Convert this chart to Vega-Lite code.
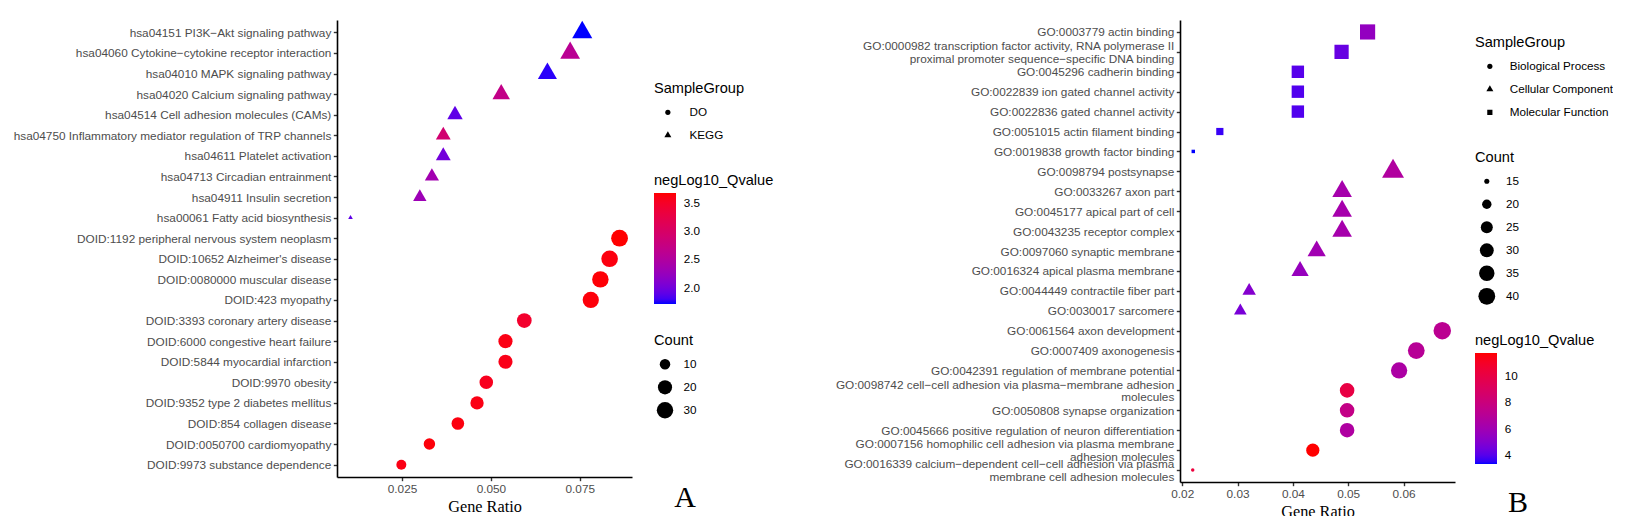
{
  "$schema": "https://vega.github.io/schema/vega-lite/v6.json",
  "padding": {"left": 12, "top": 20, "right": 0, "bottom": 0},
  "background": "white",
  "config": {
    "view": {"stroke": null},
    "font": "Liberation Sans",
    "axis": {"grid": false, "domainColor": "black", "domainWidth": 1.6, "tickColor": "#333333", "tickWidth": 1.4, "tickSize": 3.7, "labelFont": "Liberation Sans", "labelFontSize": 11.8, "labelColor": "#4D4D4D", "labelPadding": 2.5, "titleFont": "Liberation Serif", "titleFontSize": 16.3, "titleFontWeight": "normal", "titleColor": "black"},
    "legend": {"titleFont": "Liberation Sans", "titleFontSize": 14.6, "titleFontWeight": "normal", "titleColor": "black", "labelFont": "Liberation Sans", "labelFontSize": 11.7, "labelColor": "black", "titlePadding": 5.5},
    "concat": {"spacing": 61}
  },
  "resolve": {"scale": {"color": "independent", "size": "independent", "shape": "independent"}, "legend": {"color": "independent", "size": "independent", "shape": "independent"}},
  "datasets": {
    "left": [
      {"Description": "hsa04151 PI3K−Akt signaling pathway", "SampleGroup": "KEGG", "GeneRatio": 0.0757, "Count": 23, "negLog10_Qvalue": 1.71},
      {"Description": "hsa04060 Cytokine−cytokine receptor interaction", "SampleGroup": "KEGG", "GeneRatio": 0.0723, "Count": 22, "negLog10_Qvalue": 2.6},
      {"Description": "hsa04010 MAPK signaling pathway", "SampleGroup": "KEGG", "GeneRatio": 0.0659, "Count": 20, "negLog10_Qvalue": 1.75},
      {"Description": "hsa04020 Calcium signaling pathway", "SampleGroup": "KEGG", "GeneRatio": 0.0529, "Count": 16, "negLog10_Qvalue": 2.7},
      {"Description": "hsa04514 Cell adhesion molecules (CAMs)", "SampleGroup": "KEGG", "GeneRatio": 0.0399, "Count": 12, "negLog10_Qvalue": 1.9},
      {"Description": "hsa04750 Inflammatory mediator regulation of TRP channels", "SampleGroup": "KEGG", "GeneRatio": 0.0366, "Count": 11, "negLog10_Qvalue": 2.9},
      {"Description": "hsa04611 Platelet activation", "SampleGroup": "KEGG", "GeneRatio": 0.0366, "Count": 11, "negLog10_Qvalue": 2.0},
      {"Description": "hsa04713 Circadian entrainment", "SampleGroup": "KEGG", "GeneRatio": 0.0334, "Count": 10, "negLog10_Qvalue": 2.35},
      {"Description": "hsa04911 Insulin secretion", "SampleGroup": "KEGG", "GeneRatio": 0.03, "Count": 9, "negLog10_Qvalue": 2.3},
      {"Description": "hsa00061 Fatty acid biosynthesis", "SampleGroup": "KEGG", "GeneRatio": 0.0105, "Count": 3, "negLog10_Qvalue": 1.9},
      {"Description": "DOID:1192 peripheral nervous system neoplasm", "SampleGroup": "DO", "GeneRatio": 0.0862, "Count": 32, "negLog10_Qvalue": 3.67},
      {"Description": "DOID:10652 Alzheimer's disease", "SampleGroup": "DO", "GeneRatio": 0.0834, "Count": 31, "negLog10_Qvalue": 3.62},
      {"Description": "DOID:0080000 muscular disease", "SampleGroup": "DO", "GeneRatio": 0.0808, "Count": 30, "negLog10_Qvalue": 3.65},
      {"Description": "DOID:423 myopathy", "SampleGroup": "DO", "GeneRatio": 0.0781, "Count": 29, "negLog10_Qvalue": 3.64},
      {"Description": "DOID:3393 coronary artery disease", "SampleGroup": "DO", "GeneRatio": 0.0594, "Count": 22, "negLog10_Qvalue": 3.45},
      {"Description": "DOID:6000 congestive heart failure", "SampleGroup": "DO", "GeneRatio": 0.0541, "Count": 20, "negLog10_Qvalue": 3.6},
      {"Description": "DOID:5844 myocardial infarction", "SampleGroup": "DO", "GeneRatio": 0.0541, "Count": 20, "negLog10_Qvalue": 3.58},
      {"Description": "DOID:9970 obesity", "SampleGroup": "DO", "GeneRatio": 0.0487, "Count": 18, "negLog10_Qvalue": 3.55},
      {"Description": "DOID:9352 type 2 diabetes mellitus", "SampleGroup": "DO", "GeneRatio": 0.0461, "Count": 17, "negLog10_Qvalue": 3.6},
      {"Description": "DOID:854 collagen disease", "SampleGroup": "DO", "GeneRatio": 0.0407, "Count": 15, "negLog10_Qvalue": 3.62},
      {"Description": "DOID:0050700 cardiomyopathy", "SampleGroup": "DO", "GeneRatio": 0.0327, "Count": 12, "negLog10_Qvalue": 3.64},
      {"Description": "DOID:9973 substance dependence", "SampleGroup": "DO", "GeneRatio": 0.0248, "Count": 9, "negLog10_Qvalue": 3.6}
    ],
    "right": [
      {"Description": "GO:0003779 actin binding", "SampleGroup": "Molecular Function", "GeneRatio": 0.0535, "Count": 34, "negLog10_Qvalue": 5.5},
      {"Description": "GO:0000982 transcription factor activity, RNA polymerase II\nproximal promoter sequence−specific DNA binding", "SampleGroup": "Molecular Function", "GeneRatio": 0.0488, "Count": 31, "negLog10_Qvalue": 4.3},
      {"Description": "GO:0045296 cadherin binding", "SampleGroup": "Molecular Function", "GeneRatio": 0.0409, "Count": 26, "negLog10_Qvalue": 4.0},
      {"Description": "GO:0022839 ion gated channel activity", "SampleGroup": "Molecular Function", "GeneRatio": 0.0409, "Count": 26, "negLog10_Qvalue": 3.9},
      {"Description": "GO:0022836 gated channel activity", "SampleGroup": "Molecular Function", "GeneRatio": 0.0409, "Count": 26, "negLog10_Qvalue": 3.9},
      {"Description": "GO:0051015 actin filament binding", "SampleGroup": "Molecular Function", "GeneRatio": 0.0268, "Count": 17, "negLog10_Qvalue": 3.6},
      {"Description": "GO:0019838 growth factor binding", "SampleGroup": "Molecular Function", "GeneRatio": 0.022, "Count": 14, "negLog10_Qvalue": 3.32},
      {"Description": "GO:0098794 postsynapse", "SampleGroup": "Cellular Component", "GeneRatio": 0.0581, "Count": 38, "negLog10_Qvalue": 6.7},
      {"Description": "GO:0033267 axon part", "SampleGroup": "Cellular Component", "GeneRatio": 0.0489, "Count": 32, "negLog10_Qvalue": 6.2},
      {"Description": "GO:0045177 apical part of cell", "SampleGroup": "Cellular Component", "GeneRatio": 0.0489, "Count": 32, "negLog10_Qvalue": 6.2},
      {"Description": "GO:0043235 receptor complex", "SampleGroup": "Cellular Component", "GeneRatio": 0.0489, "Count": 32, "negLog10_Qvalue": 6.2},
      {"Description": "GO:0097060 synaptic membrane", "SampleGroup": "Cellular Component", "GeneRatio": 0.0443, "Count": 29, "negLog10_Qvalue": 6.0},
      {"Description": "GO:0016324 apical plasma membrane", "SampleGroup": "Cellular Component", "GeneRatio": 0.0413, "Count": 27, "negLog10_Qvalue": 5.6},
      {"Description": "GO:0044449 contractile fiber part", "SampleGroup": "Cellular Component", "GeneRatio": 0.0321, "Count": 21, "negLog10_Qvalue": 5.0},
      {"Description": "GO:0030017 sarcomere", "SampleGroup": "Cellular Component", "GeneRatio": 0.0305, "Count": 20, "negLog10_Qvalue": 4.7},
      {"Description": "GO:0061564 axon development", "SampleGroup": "Biological Process", "GeneRatio": 0.067, "Count": 43, "negLog10_Qvalue": 7.2},
      {"Description": "GO:0007409 axonogenesis", "SampleGroup": "Biological Process", "GeneRatio": 0.0623, "Count": 40, "negLog10_Qvalue": 7.0},
      {"Description": "GO:0042391 regulation of membrane potential", "SampleGroup": "Biological Process", "GeneRatio": 0.0592, "Count": 38, "negLog10_Qvalue": 6.5},
      {"Description": "GO:0098742 cell−cell adhesion via plasma−membrane adhesion\nmolecules", "SampleGroup": "Biological Process", "GeneRatio": 0.0498, "Count": 32, "negLog10_Qvalue": 10.0},
      {"Description": "GO:0050808 synapse organization", "SampleGroup": "Biological Process", "GeneRatio": 0.0498, "Count": 32, "negLog10_Qvalue": 7.6},
      {"Description": "GO:0045666 positive regulation of neuron differentiation", "SampleGroup": "Biological Process", "GeneRatio": 0.0498, "Count": 32, "negLog10_Qvalue": 6.6},
      {"Description": "GO:0007156 homophilic cell adhesion via plasma membrane\nadhesion molecules", "SampleGroup": "Biological Process", "GeneRatio": 0.0436, "Count": 28, "negLog10_Qvalue": 11.71},
      {"Description": "GO:0016339 calcium−dependent cell−cell adhesion via plasma\nmembrane cell adhesion molecules", "SampleGroup": "Biological Process", "GeneRatio": 0.0219, "Count": 14, "negLog10_Qvalue": 10.3}
    ]
  },
  "hconcat": [
    {
      "width": 295,
      "height": 457,
      "data": {"name": "left"},
      "title": {"text": "A", "orient": "bottom", "anchor": "end", "frame": "group", "font": "Liberation Serif", "fontSize": 30, "fontWeight": "normal", "color": "black", "dx": 64, "dy": -31, "offset": 0},
      "mark": {"type": "point", "filled": true, "opacity": 1, "strokeWidth": 0},
      "encoding": {
        "x": {"field": "GeneRatio", "type": "quantitative", "title": "Gene Ratio", "scale": {"domain": [0.0067, 0.0897], "nice": false, "zero": false}, "axis": {"values": [0.025, 0.05, 0.075], "format": ".3f", "titlePadding": 3}},
        "y": {"field": "Description", "type": "nominal", "sort": null, "title": null, "scale": {"type": "point", "padding": 0.6}, "axis": {"labelLimit": 400}},
        "color": {"field": "negLog10_Qvalue", "type": "quantitative", "scale": {"domain": [1.71, 3.67], "range": ["blue", "red"], "interpolate": "lab", "nice": false, "zero": false}, "legend": {"orient": "none", "legendX": 317, "legendY": 153, "direction": "vertical", "gradientLength": 111, "gradientThickness": 22, "values": [2, 2.5, 3, 3.5], "format": ".1f", "labelOffset": 7.7}},
        "size": {"field": "Count", "type": "quantitative", "scale": {"type": "sqrt", "domain": [3, 32], "range": [12, 282], "zero": false, "nice": false}, "legend": {"orient": "none", "legendX": 317, "legendY": 313, "values": [10, 20, 30], "symbolFillColor": "black", "symbolStrokeWidth": 0, "symbolOffset": 2.5, "labelOffset": 10, "clipHeight": 22.4, "rowPadding": 0}},
        "shape": {"field": "SampleGroup", "type": "nominal", "scale": {"domain": ["DO", "KEGG"], "range": ["circle", "M0,-1.555L1.347,0.778L-1.347,0.778Z"]}, "legend": {"orient": "none", "legendX": 317, "legendY": 61, "symbolSize": 27, "symbolFillColor": "black", "symbolStrokeWidth": 0, "symbolOffset": 8, "labelOffset": 15.8, "clipHeight": 22.4, "rowPadding": 0}}
      }
    },
    {
      "width": 275,
      "height": 462,
      "data": {"name": "right"},
      "title": {"text": "B", "orient": "bottom", "anchor": "end", "frame": "group", "font": "Liberation Serif", "fontSize": 30, "fontWeight": "normal", "color": "black", "dx": 73, "dy": -31, "offset": 0},
      "mark": {"type": "point", "filled": true, "opacity": 1, "strokeWidth": 0},
      "encoding": {
        "x": {"field": "GeneRatio", "type": "quantitative", "title": "Gene Ratio", "scale": {"domain": [0.0196, 0.0693], "nice": false, "zero": false}, "axis": {"values": [0.02, 0.03, 0.04, 0.05, 0.06], "format": ".2f", "titlePadding": 3}},
        "y": {"field": "Description", "type": "nominal", "sort": null, "title": null, "scale": {"type": "point", "padding": 0.6}, "axis": {"labelLimit": 400, "labelExpr": "split(datum.label, '\\n')", "labelLineHeight": 12.4, "labelOffset": {"condition": {"test": "indexof(datum.value, '\\n') >= 0", "value": -6.2}, "value": 0}}},
        "color": {"field": "negLog10_Qvalue", "type": "quantitative", "scale": {"domain": [3.32, 11.71], "range": ["blue", "red"], "interpolate": "lab", "nice": false, "zero": false}, "legend": {"orient": "none", "legendX": 295, "legendY": 313, "direction": "vertical", "gradientLength": 111, "gradientThickness": 22, "values": [4, 6, 8, 10], "format": "d", "labelOffset": 7.7}},
        "size": {"field": "Count", "type": "quantitative", "scale": {"type": "sqrt", "domain": [14, 43], "range": [12, 306], "zero": false, "nice": false}, "legend": {"orient": "none", "legendX": 295, "legendY": 130, "values": [15, 20, 25, 30, 35, 40], "symbolFillColor": "black", "symbolStrokeWidth": 0, "symbolOffset": 3.3, "labelOffset": 10.6, "clipHeight": 22.4, "rowPadding": 0}},
        "shape": {"field": "SampleGroup", "type": "nominal", "scale": {"domain": ["Biological Process", "Cellular Component", "Molecular Function"], "range": ["circle", "M0,-1.555L1.347,0.778L-1.347,0.778Z", "square"]}, "legend": {"orient": "none", "legendX": 295, "legendY": 15, "symbolSize": 27, "symbolFillColor": "black", "symbolStrokeWidth": 0, "symbolOffset": 9, "labelOffset": 14, "clipHeight": 22.4, "rowPadding": 0}}
      }
    }
  ]
}
